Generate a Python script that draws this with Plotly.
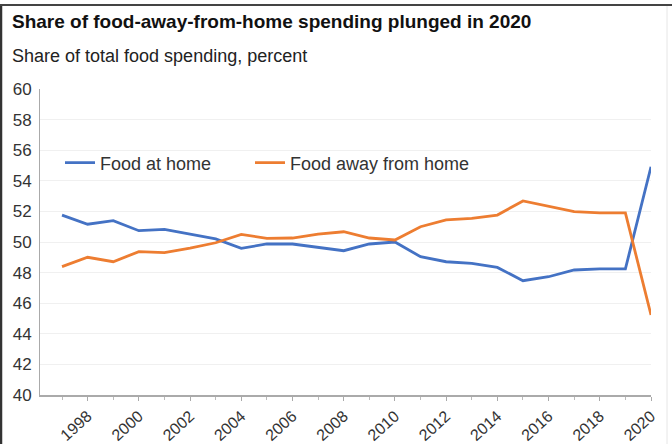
import plotly.graph_objects as go

years = list(range(1997, 2021))
food_at_home = [51.76, 51.16, 51.39, 50.74, 50.83, 50.5, 50.2, 49.59, 49.87, 49.87,
                49.65, 49.43, 49.87, 50.0, 49.04, 48.71, 48.6, 48.34, 47.47, 47.73,
                48.17, 48.24, 48.24, 54.92]
food_away = [48.39, 49.0, 48.71, 49.37, 49.3, 49.6, 49.95, 50.5, 50.24, 50.26,
             50.52, 50.67, 50.26, 50.13, 51.0, 51.44, 51.55, 51.76, 52.68, 52.35,
             51.98, 51.9, 51.9, 45.23]
x_tick_years = list(range(1998, 2021, 2))
y_ticks = list(range(40, 61, 2))

W, H = 672, 444
L, R, T, B = 40, 21, 89, 49
pw, ph = W - L - R, H - T - B

def px(x):
    return (x - L) / pw

def py(y):
    return (H - B - y) / ph

FONT = "Liberation Sans, Arial, sans-serif"

fig = go.Figure()
fig.add_trace(go.Scatter(x=years, y=food_at_home, mode="lines", name="Food at home",
                         line=dict(color="#4472C4", width=2.8), legend="legend"))
fig.add_trace(go.Scatter(x=years, y=food_away, mode="lines", name="Food away from home",
                         line=dict(color="#ED7D31", width=2.8), legend="legend2"))

leg_common = dict(orientation="h", xanchor="left", yanchor="middle",
                  font=dict(size=18, color="#333333"), bgcolor="rgba(0,0,0,0)", itemwidth=30)

fig.update_layout(
    width=W, height=H,
    margin=dict(l=L, r=R, t=T, b=B, autoexpand=False),
    paper_bgcolor="white", plot_bgcolor="white",
    font=dict(family=FONT, color="#333333"),
    showlegend=True,
    legend=dict(x=px(60), y=py(163), **leg_common),
    legend2=dict(x=px(250), y=py(163), **leg_common),
    xaxis=dict(range=[1996.14, 2020], tickvals=x_tick_years, ticktext=[str(v) for v in x_tick_years],
               tickangle=-42, ticks="outside", ticklen=4, tickcolor="#aaaaaa",
               minor=dict(dtick=1, tick0=1997, ticks="outside", ticklen=3, tickcolor="#bbbbbb"),
               showline=True, linecolor="#aaaaaa", linewidth=1.5, showgrid=False, zeroline=False,
               automargin=False, tickfont=dict(size=16, color="#333333")),
    yaxis=dict(range=[40, 60], tickvals=y_ticks, showline=True, linecolor="#aaaaaa", linewidth=1,
               gridcolor="#f0f0f0", zeroline=False, ticks="", ticklabelstandoff=4,
               automargin=False, tickfont=dict(size=17, color="#333333")),
    annotations=[
        dict(text="<b>Share of food-away-from-home spending plunged in 2020</b>", xref="paper", yref="paper",
             x=px(10), y=py(22), xanchor="left", yanchor="middle", showarrow=False,
             font=dict(size=19, color="#111111")),
        dict(text="Share of total food spending, percent", xref="paper", yref="paper",
             x=px(10), y=py(56), xanchor="left", yanchor="middle", showarrow=False,
             font=dict(size=18, color="#222222")),
    ],
    shapes=[
        dict(type="line", xref="paper", yref="paper", x0=px(1), x1=px(1), y0=py(H), y1=py(4),
             line=dict(color="#333333", width=2.5)),
        dict(type="line", xref="paper", yref="paper", x0=px(0), x1=px(W), y0=py(5), y1=py(5),
             line=dict(color="#444444", width=2)),
        dict(type="line", xref="paper", yref="paper", x0=px(667), x1=px(667), y0=py(H), y1=py(6),
             line=dict(color="#e6e6e6", width=1)),
    ],
)

fig.write_html("out.html")
